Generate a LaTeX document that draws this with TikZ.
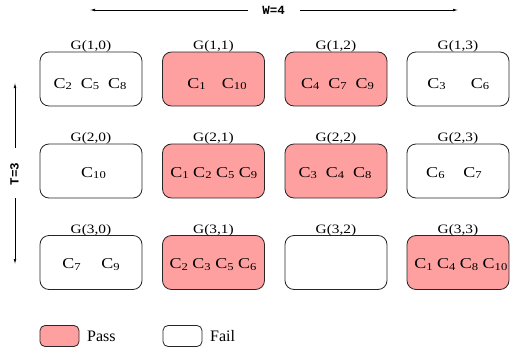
\documentclass[tikz,border=0pt]{standalone}
\usepackage{fontspec}
\usepackage{graphicx}
\setmainfont{Liberation Serif}
\newfontfamily\monob{Liberation Mono}
\usetikzlibrary{arrows.meta}
\definecolor{passred}{HTML}{FFA0A0}
\newcommand\cc[1]{C\raisebox{-0.25ex}{\fontsize{10.5}{12}\selectfont #1}}
\newcommand\sx[1]{\scalebox{1.2}[1]{#1}}
\tikzset{
  gbox/.style={draw=black!85, line width=0.8pt, rounded corners=9pt, minimum width=102pt, minimum height=54pt, inner sep=0pt},
  pass/.style={gbox, fill=passred},
  fail/.style={gbox, fill=white},
  glabel/.style={anchor=base, inner sep=0pt, font=\fontsize{12.8}{14}\selectfont},
  gtext/.style={anchor=base, inner sep=0pt, font=\fontsize{15}{17}\selectfont},
  lbox/.style={draw=black!85, line width=0.8pt, rounded corners=5pt, minimum width=39pt, minimum height=21pt, inner sep=0pt},
  ltext/.style={anchor=base west, inner sep=0pt, font=\fontsize{16}{18}\selectfont},
  dimtext/.style={inner sep=0pt, font=\monob\bfseries\fontsize{12.5}{14}\selectfont},
  dimarrow/.style={line width=0.6pt, -{Latex[length=5pt,width=2.6pt]}}
}
\begin{document}
\begin{tikzpicture}[x=1pt,y=-1pt]
\useasboundingbox (0,0) rectangle (515,351);
% boxes
\node[fail] (b10) at (91,79) {};
\node[pass] (b11) at (213.5,79) {};
\node[pass] (b12) at (336,79) {};
\node[fail] (b13) at (458,79) {};
\node[fail] (b20) at (91,171) {};
\node[pass] (b21) at (213.5,171) {};
\node[pass] (b22) at (336,171) {};
\node[fail] (b23) at (458,171) {};
\node[fail] (b30) at (91,262.5) {};
\node[pass] (b31) at (213.5,262.5) {};
\node[fail] (b32) at (336,262.5) {};
\node[pass] (b33) at (458,262.5) {};
% labels
\foreach \r/\y in {1/49.3,2/141.3,3/233}{
  \foreach \c/\x in {0/91,1/213.5,2/336,3/458}{
    \node[glabel] (l\r\c) at (\x,\y) {\sx{G(\r,\c)}};
  }
}
% contents
\node[gtext] (t10) at (90,88) {\sx{\cc{2}\enspace\cc{5}\enspace\cc{8}}};
\node[gtext] (t11) at (217,88) {\sx{\cc{1}\hspace{0.9em}\cc{10}}};
\node[gtext] (t12) at (337.5,88) {\sx{\cc{4}\enspace\cc{7}\enspace\cc{9}}};
\node[gtext] (t13) at (458.3,88) {\sx{\cc{3}\hspace{1.4em}\cc{6}}};
\node[gtext] (t20) at (93.5,177) {\sx{\cc{10}}};
\node[gtext] (t21) at (213.8,177) {\sx{\cc{1} \cc{2} \cc{5} \cc{9}}};
\node[gtext] (t22) at (335,177) {\sx{\cc{3}\enspace\cc{4}\enspace\cc{8}}};
\node[gtext] (t23) at (454,177) {\sx{\cc{6}\hspace{1.05em}\cc{7}}};
\node[gtext] (t30) at (91,268.5) {\sx{\cc{7}\hspace{1.15em}\cc{9}}};
\node[gtext] (t31) at (213,268.5) {\sx{\cc{2} \cc{3} \cc{5} \cc{6}}};
\node[gtext] (t33) at (460.8,268.5) {\sx{\cc{1} \cc{4} \cc{8} \cc{10}}};
% dimension arrows
\node[dimtext] (w) at (273.7,10) {W=4};
\coordinate (wl) at (90,10);
\coordinate (wr) at (458,10);
\draw[dimarrow] (248,10) -- (wl);
\draw[dimarrow] (300,10) -- (wr);
\node[dimtext, rotate=90] (t) at (14.5,174) {T=3};
\coordinate (tu) at (15,83);
\coordinate (td) at (15,264);
\draw[dimarrow] (15,148) -- (tu);
\draw[dimarrow] (15,198) -- (td);
% legend
\node[lbox, fill=passred] (lp) at (59.5,336) {};
\node[ltext] (lpt) at (87,341.5) {Pass};
\node[lbox, fill=white] (lf) at (182.5,336) {};
\node[ltext] (lft) at (210,341.5) {Fail};
\end{tikzpicture}
\end{document}
